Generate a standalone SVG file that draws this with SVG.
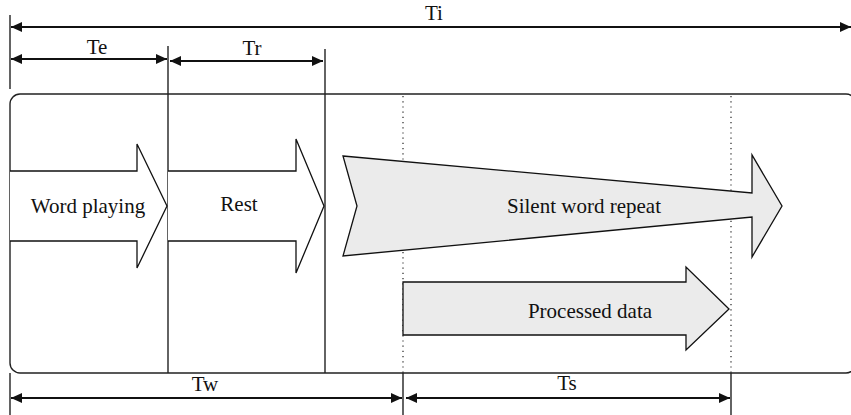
<svg xmlns="http://www.w3.org/2000/svg" width="851" height="415" viewBox="0 0 851 415" font-family="Liberation Serif, Times New Roman, serif">
  <style>
    .ln { stroke: #222; stroke-width: 1.4; fill: none; }
    .dot { stroke: #222; stroke-width: 1.2; stroke-dasharray: 1.2 4; fill: none; }
    .dim { stroke: #111; stroke-width: 1.8; fill: none; marker-start: url(#ah); marker-end: url(#ah); }
    .arw { stroke: #111; stroke-width: 1.3; stroke-linejoin: miter; }
    text { font-family: "Liberation Serif", "DejaVu Serif", serif; font-size: 21px; fill: #111; text-anchor: middle; }
  </style>
  <defs>
    <marker id="ah" viewBox="0 0 10 10" refX="10" refY="5" markerWidth="11" markerHeight="10" orient="auto-start-reverse" markerUnits="userSpaceOnUse" preserveAspectRatio="none">
      <path d="M0,0 L10,5 L0,10 Z" fill="#111"/>
    </marker>
  </defs>

  <!-- frame -->
  <rect x="10" y="94" width="846" height="279" rx="10" ry="10" class="ln"/>

  <!-- guide lines -->
  <g id="guides">
    <line x1="10" y1="15" x2="10" y2="89" class="ln"/>
    <line x1="168" y1="46" x2="168" y2="373" class="ln"/>
    <line x1="325" y1="49" x2="325" y2="373" class="ln"/>
    <line x1="10" y1="373" x2="10" y2="415" class="ln"/>
    <line x1="403" y1="96" x2="403" y2="373" class="dot"/>
    <line x1="403" y1="373" x2="403" y2="415" class="ln"/>
    <line x1="731" y1="96" x2="731" y2="373" class="dot"/>
    <line x1="731" y1="373" x2="731" y2="415" class="ln"/>
  </g>

  <!-- dimension arrows -->
  <g id="connectors">
    <line x1="11" y1="27" x2="851" y2="27" class="dim"/>
    <line x1="11" y1="59" x2="167" y2="59" class="dim"/>
    <line x1="170" y1="61" x2="323" y2="61" class="dim"/>
    <line x1="11" y1="398" x2="402" y2="398" class="dim"/>
    <line x1="406" y1="398" x2="730" y2="398" class="dim"/>
  </g>

  <!-- dimension labels -->
  <g id="labels">
    <text x="434" y="20">Ti</text>
    <text x="97" y="54">Te</text>
    <text x="252" y="55">Tr</text>
    <text x="205" y="391">Tw</text>
    <text x="567" y="390">Ts</text>
  </g>

  <g id="word-playing">
    <path d="M10,171 L137,171 L137,144 L167,206 L137,268 L137,241 L10,241" fill="#fff" class="arw"/>
    <text x="88" y="213">Word playing</text>
  </g>

  <g id="rest">
    <path d="M168,171 L296,171 L296,139 L324,206 L296,273 L296,241 L168,241" fill="#fff" class="arw"/>
    <text x="239" y="211">Rest</text>
  </g>

  <g id="silent-word-repeat">
    <path d="M343,156 L752,193 L752,155 L782,206 L752,257 L752,217 L343,256 L357,206 Z" fill="#ebebeb" class="arw"/>
    <text x="584" y="213">Silent word repeat</text>
  </g>

  <g id="processed-data">
    <path d="M403,282 L686,282 L686,267 L729,309 L686,350 L686,335 L403,335 Z" fill="#ebebeb" class="arw"/>
    <text x="590" y="318">Processed data</text>
  </g>
</svg>
